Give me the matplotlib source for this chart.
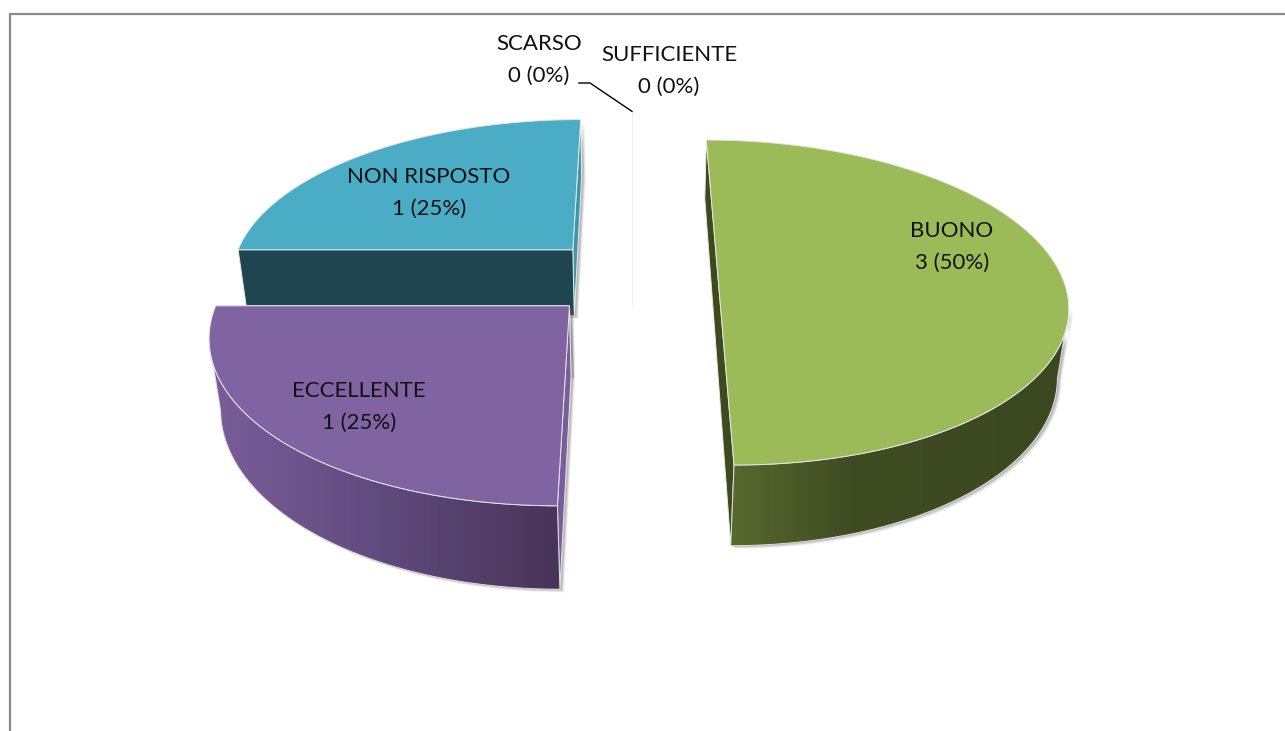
import numpy as np
import matplotlib
matplotlib.use('Agg')
import matplotlib.pyplot as plt
from matplotlib.colors import LinearSegmentedColormap
from matplotlib.patches import Polygon

categories = ['BUONO', 'ECCELLENTE', 'NON RISPOSTO', 'SCARSO', 'SUFFICIENTE']
counts = [3, 1, 1, 0, 0]
shares = [50, 25, 25, 0, 0]

# label centres (two lines, in pixels)
label_xy = [(952, 247), (359, 407), (429, 193), (539, 60), (669, 71)]

top_colors = ['#9BBB59', '#8064A2', '#4BACC6']
start_face = ['#3D4A20', '#7A5D9C', '#1F4650']
end_face = ['#3D4A20', '#4A3660', '#3F97AF']
side_stops = [[(0.0, '#58692F'), (0.35, '#3F4C22'), (1.0, '#3C4820')],
              [(0.0, '#7A5E9B'), (0.5, '#5F4A7D'), (1.0, '#483458')],
              None]
draw_order = [2, 0, 1]

# perspective of the pie plane, fitted on the picture
CX, CY = 632, 277
SCALE_X, SCALE_Y = 344, 158.5
PERSP = 0.157
DEPTH = 68
VANISH_Y = 3000
EXPLODE = 0.25


def project(X, Y):
    w = 1 + PERSP * Y
    return CX + SCALE_X * X / w, CY - SCALE_Y * Y / w


def dropDown(x, y, Y):
    dy = DEPTH / (1 + PERSP * Y)
    return CX + (x - CX) * (1 - dy / (VANISH_Y - y)), y + dy


def rimPoints(theta, ox, oy):
    Y = oy + np.sin(theta)
    x, y = project(ox + np.cos(theta), Y)
    return x, y, Y


def cutFace(ox, oy, angle):
    ax_x, ax_y = project(ox, oy)
    x, y, Y = rimPoints(np.array([angle]), ox, oy)
    bx, by = dropDown(x[0], y[0], Y[0])
    cx, cy = dropDown(ax_x, ax_y, oy)
    return [(ax_x, ax_y), (x[0], y[0]), (bx, by), (cx, cy)]


def flatFace(ox, oy, a0, a1):
    # half a pie: both cut edges lie in one plane
    x, y, Y = rimPoints(np.array([a0, a1]), ox, oy)
    bx, by = dropDown(x, y, Y)
    return [(x[0], y[0]), (x[1], y[1]), (bx[1], by[1]), (bx[0], by[0])]


def drawGradient(ax, poly, stops, zorder):
    cmap = LinearSegmentedColormap.from_list('side', stops)
    xs = [p[0] for p in poly]
    ys = [p[1] for p in poly]
    img = ax.imshow(np.linspace(0, 1, 256).reshape(1, -1), cmap=cmap, aspect='auto',
                    extent=(min(xs), max(xs), max(ys), min(ys)), zorder=zorder)
    clip = Polygon(poly, closed=True, transform=ax.transData)
    img.set_clip_path(clip)


def drawShadow(ax, poly, zorder):
    for dx, dy, alpha in [(4, 3, 0.10), (3, 2, 0.16), (2, 1, 0.22)]:
        moved = [(p[0] + dx, p[1] + dy) for p in poly]
        ax.add_patch(Polygon(moved, closed=True, facecolor='#555555', edgecolor='none',
                             alpha=alpha, zorder=zorder))


fig = plt.figure(figsize=(12.85, 7.31), dpi=100)
ax = fig.add_axes([0, 0, 1, 1])

# chart frame, open on the right and at the bottom
ax.plot([1285, 10, 10], [14, 14, 731], color='#8C8C8C', lw=1.6, solid_joinstyle='miter', zorder=1)

# pie slices, clockwise from 12 o'clock
total = sum(shares)
edges = 90 - 360 * np.cumsum([0] + shares) / total

for rank, i in enumerate(draw_order):
    z = 10 + rank * 10
    a0, a1 = np.radians(edges[i]), np.radians(edges[i + 1])
    mid = (a0 + a1) / 2
    ox, oy = EXPLODE * np.cos(mid), EXPLODE * np.sin(mid)

    theta = np.linspace(a0, a1, 300)
    x, y, Y = rimPoints(theta, ox, oy)
    apex = project(ox, oy)
    top = [apex] + list(zip(x, y))

    if shares[i] * 2 == total:
        faces = [flatFace(ox, oy, a0, a1)]
        face_colors = [start_face[i]]
    else:
        faces = [cutFace(ox, oy, a1), cutFace(ox, oy, a0)]
        face_colors = [end_face[i], start_face[i]]

    # outer wall starts where the rim is widest on screen
    widest = np.argmax(np.abs(x - CX))
    front = (np.sin(theta) <= 0) & (Y <= Y[widest])
    side = None
    if front.sum() > 1:
        bx, by = dropDown(x[front], y[front], Y[front])
        side = list(zip(x[front], y[front])) + list(zip(bx[::-1], by[::-1]))

    for face in faces:
        drawShadow(ax, face, z)
    if side:
        drawShadow(ax, side, z)

    for k, face in enumerate(faces):
        ax.add_patch(Polygon(face, closed=True, facecolor=face_colors[k], edgecolor='#E8E8E8',
                             lw=0.7, zorder=z + 1 + k))
    if side:
        drawGradient(ax, side, side_stops[i], z + 3)
        ax.add_patch(Polygon(side, closed=True, fill=False, edgecolor='#DDDDDD', lw=0.7, zorder=z + 4))
    ax.add_patch(Polygon(top, closed=True, facecolor=top_colors[i], edgecolor='#E6E6E6',
                         lw=0.7, zorder=z + 5))

    if rank == 0:
        # the empty slices are only a faint line at 12 o'clock
        for j in range(len(categories)):
            if shares[j] == 0:
                line = cutFace(0, EXPLODE, np.radians(edges[j]))
                ax.plot([line[1][0], line[3][0]], [line[1][1], line[3][1]],
                        color='#EFEFEF', lw=0.6, zorder=z + 6)
                leader_end = line[1]

# leader line of SCARSO
ax.plot([579, 590, leader_end[0]], [83, 83, leader_end[1]], color='black', lw=1.0, zorder=60)

for name, count, share, (lx, ly) in zip(categories, counts, shares, label_xy):
    ax.text(lx, ly, '%s\n%d (%d%%)' % (name, count, share), ha='center', va='center',
            family=['Lato', 'DejaVu Sans'], fontsize=16, color='#111111', linespacing=1.69, zorder=70)

ax.set_xlim(0, 1285)
ax.set_ylim(731, 0)
ax.axis('off')

fig.savefig('out.png', dpi=100, facecolor='white')
